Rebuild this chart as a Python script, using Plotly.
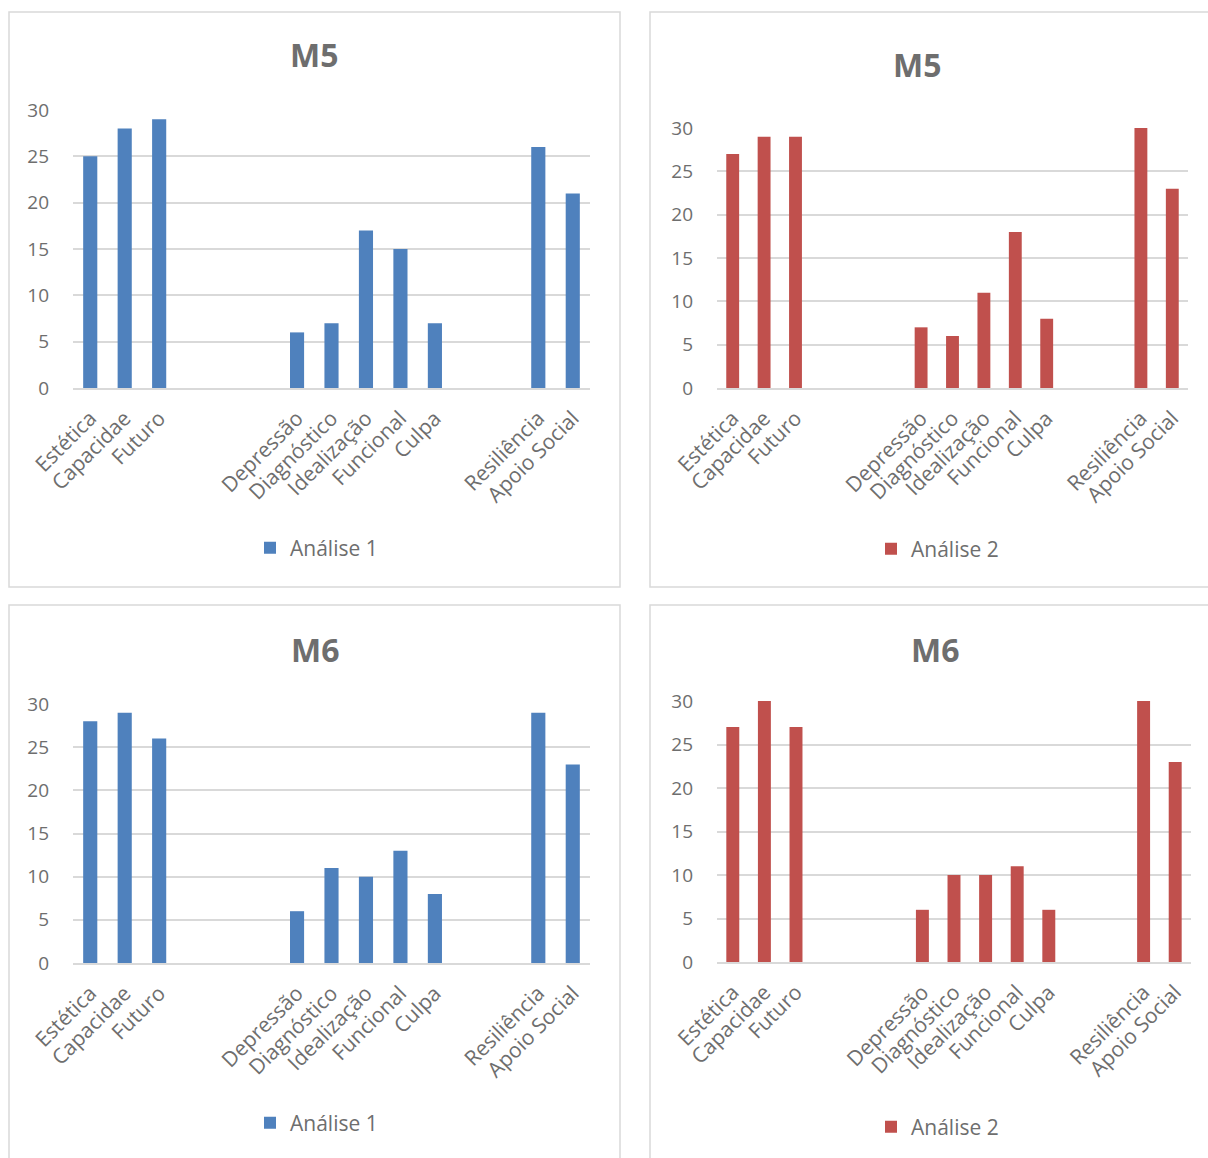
import plotly.graph_objects as go

# Categories on the x axis; blank entries keep the gaps between the groups
categories = ["Estética", "Capacidae", "Futuro", " ", "  ", "   ",
              "Depressão", "Diagnóstico", "Idealização", "Funcional", "Culpa",
              "    ", "     ", "Resiliência", "Apoio Social"]

m5_analise1 = [25, 28, 29, None, None, None, 6, 7, 17, 15, 7, None, None, 26, 21]
m5_analise2 = [27, 29, 29, None, None, None, 7, 6, 11, 18, 8, None, None, 30, 23]
m6_analise1 = [28, 29, 26, None, None, None, 6, 11, 10, 13, 8, None, None, 29, 23]
m6_analise2 = [27, 30, 27, None, None, None, 6, 10, 10, 11, 6, None, None, 30, 23]

y_ticks = [0, 5, 10, 15, 20, 25, 30]

W, H = 1208, 1158
BLUE = "#4F81BD"
RED = "#C0504D"
TEXT = "#6e6e6e"
GRID = "#d9d9d9"
FONT = "Open Sans"


def fx(p):
    return p / W


def fy(p):
    return 1 - p / H


# panel: (title, values, colour, series name, x-range px, y-range px,
#         title centre px, legend left px, legend centre y px, border box px)
panels = [
    ("M5", m5_analise1, BLUE, "Análise 1", (73, 590), (110, 388), (314, 55), 250, 548, (9, 12, 620, 587)),
    ("M5", m5_analise2, RED, "Análise 2", (717, 1188), (128, 388), (917, 64), 871, 549, (650, 12, 1215, 587)),
    ("M6", m6_analise1, BLUE, "Análise 1", (73, 590), (704, 963), (315, 649), 250, 1123, (9, 605, 620, 1165)),
    ("M6", m6_analise2, RED, "Análise 2", (717, 1191), (701, 962), (935, 649), 871, 1127, (650, 605, 1215, 1165)),
]

fig = go.Figure()
shapes = []
annotations = []
layout_extra = {}

for i, (title, vals, color, name, xr, yr, tpos, lx, ly, box) in enumerate(panels, start=1):
    sfx = "" if i == 1 else str(i)
    legend_name = "legend" + sfx
    fig.add_trace(go.Bar(
        x=categories, y=vals, name=name,
        marker=dict(color=color, line=dict(width=0)),
        xaxis="x" + sfx, yaxis="y" + sfx,
        legend=legend_name, showlegend=True,
    ))
    layout_extra["xaxis" + sfx] = dict(
        domain=[fx(xr[0]), fx(xr[1])], anchor="y" + sfx, automargin=False,
        type="category", categoryorder="array", categoryarray=categories,
        tickangle=-45, showgrid=False, showline=True, linecolor=GRID, linewidth=1.5,
        ticks="", ticklabelstandoff=8,
        tickfont=dict(family=FONT, size=21, color=TEXT),
        fixedrange=True,
    )
    layout_extra["yaxis" + sfx] = dict(
        domain=[fy(yr[1]), fy(yr[0])], anchor="x" + sfx, automargin=False,
        range=[0, 30], tickvals=y_ticks, showgrid=True, gridcolor=GRID, gridwidth=1.5,
        zeroline=False, showline=False, ticks="", ticklabelstandoff=23,
        tickfont=dict(family=FONT, size=19, color=TEXT), fixedrange=True,
    )
    layout_extra[legend_name] = dict(
        x=fx(lx), xanchor="left", y=fy(ly), yanchor="middle",
        orientation="h", bgcolor="rgba(0,0,0,0)",
        font=dict(family=FONT, size=21, color=TEXT),
    )
    annotations.append(dict(
        text="<b>%s</b>" % title, x=fx(tpos[0]), y=fy(tpos[1]),
        xref="paper", yref="paper", xanchor="center", yanchor="middle",
        showarrow=False, font=dict(family=FONT, size=32, color=TEXT),
    ))
    shapes.append(dict(
        type="rect", xref="paper", yref="paper",
        x0=fx(box[0]), x1=fx(box[2]), y0=fy(box[3]), y1=fy(box[1]),
        line=dict(color=GRID, width=1.5), fillcolor="rgba(0,0,0,0)", layer="below",
    ))

fig.update_layout(
    template="none",
    width=W, height=H, margin=dict(l=0, r=0, t=0, b=0, autoexpand=False),
    paper_bgcolor="white", plot_bgcolor="white",
    bargap=0.59, shapes=shapes, annotations=annotations,
    font=dict(family=FONT, color=TEXT),
    **layout_extra,
)

fig.write_html("out.html")
